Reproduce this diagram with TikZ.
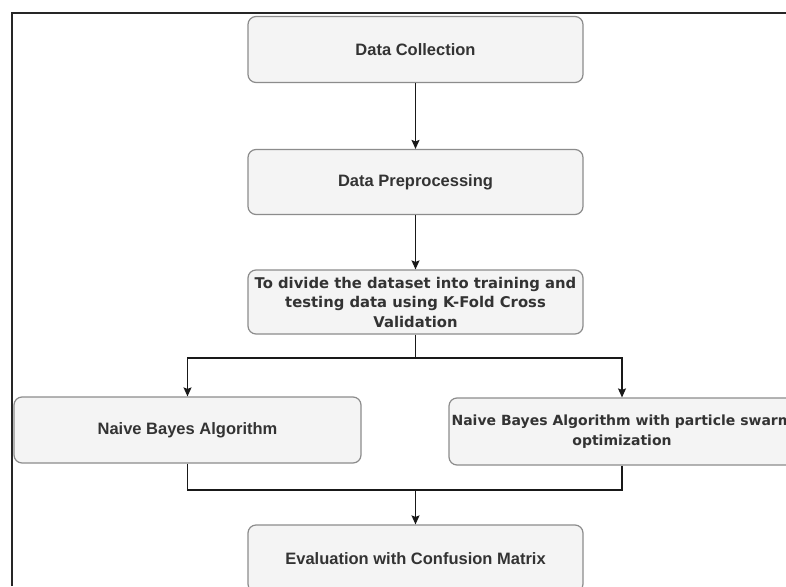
\documentclass[tikz,border=0pt]{standalone}
\usepackage{fontspec}
\setmainfont{Liberation Sans}
\newfontfamily\dejab{DejaVu Sans}
\usetikzlibrary{arrows.meta}
\definecolor{boxfill}{HTML}{F4F4F4}
\definecolor{boxline}{HTML}{8C8C8C}
\definecolor{txt}{HTML}{333333}
\tikzset{
  stepbox/.style={rectangle, rounded corners=8pt, draw=boxline, fill=boxfill,
    line width=1.2pt, minimum width=335pt, minimum height=66pt, inner sep=1pt,
    align=center, text=txt, font=\fontsize{16.5}{19.5}\selectfont\bfseries},
  widebox/.style={stepbox, font=\dejab\fontsize{14.8}{19.5}\selectfont\bfseries},
  conn/.style={line width=1.2pt, draw=black!90},
  arr/.style={conn, -{Stealth[length=9pt,width=8pt,inset=1.5pt]}}
}
\begin{document}
\begin{tikzpicture}[x=1pt,y=-1pt]
\useasboundingbox (0,0) rectangle (786,586);
\fill[white] (0,0) rectangle (786,586);
\draw[line width=1.5pt, black!85] (12,586) -- (12,13) -- (786,13);

\node[stepbox] (dc) at (415.5,49.5) {Data Collection};
\node[stepbox, minimum height=65pt] (dp) at (415.5,182) {Data Preprocessing};
\node[widebox, minimum height=64pt] (dv) at (415.5,302)
  {To divide the dataset into training and\\testing data using K-Fold Cross\\Validation};
\node[stepbox, minimum width=347pt] (nb) at (187.5,430) {Naive Bayes Algorithm};
\node[widebox, minimum width=346pt, minimum height=67pt, inner sep=0pt,
      font=\dejab\fontsize{14}{19.5}\selectfont\bfseries] (ps) at (622,431.5)
  {Naive Bayes Algorithm with particle swarm\\optimization};
\node[stepbox, minimum height=67pt] (ev) at (415.5,558.5) {Evaluation with Confusion Matrix};

\draw[arr] (dc.south) -- (dp.north);
\draw[arr] (dp.south) -- (dv.north);
\coordinate (j1) at (415.5,358);
\draw[conn] (dv.south) -- (j1);
\draw[arr] (j1) -| (nb.north);
\draw[arr] (j1) -| (ps.north);
\coordinate (j2) at (415.5,490);
\draw[conn] (nb.south) |- (j2);
\draw[conn] (ps.south) |- (j2);
\draw[arr] (j2) -- (ev.north);
\end{tikzpicture}
\end{document}
